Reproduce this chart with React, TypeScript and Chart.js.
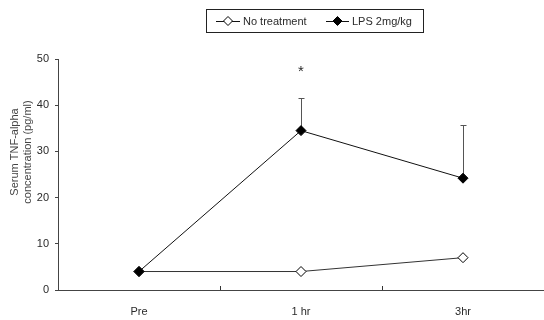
import React, { useEffect, useRef } from "react";
import { Chart, registerables } from "chart.js";

Chart.register(...registerables);

const categories = ["Pre", "1 hr", "3hr"];
const noTreatment = [4, 4, 7];
const lps = [4, 34.5, 24.2];
const lpsError = [0, 7, 11.5];
const significance = ["", "*", ""];
const seriesLabels = ["No treatment", "LPS 2mg/kg"];
const yTitle = ["Serum TNF-alpha", "concentration (pg/ml)"];
const yMin = 0;
const yMax = 50;
const yStep = 10;

const FONT = "'Liberation Sans', Arial, sans-serif";
const TEXT = "#2a2a2a";

const decorPlugin = {
  id: "decor",
  beforeDatasetsDraw(chart: any) {
    const ctx = chart.ctx;
    const meta = chart.getDatasetMeta(1);
    const ys = chart.scales.y;
    ctx.save();
    ctx.strokeStyle = "#555";
    ctx.lineWidth = 1;
    lps.forEach((v, i) => {
      const e = lpsError[i];
      if (!e) return;
      const pt = meta.data[i];
      const x = Math.round(pt.x) + 0.5;
      const y0 = ys.getPixelForValue(v);
      const y1 = Math.round(ys.getPixelForValue(v + e)) + 0.5;
      ctx.beginPath();
      ctx.moveTo(x, y0);
      ctx.lineTo(x, y1);
      ctx.moveTo(x - 3, y1);
      ctx.lineTo(x + 3, y1);
      ctx.stroke();
    });
    ctx.restore();
  },
  afterDraw(chart: any) {
    const ctx = chart.ctx;
    const xs = chart.scales.x;
    const ys = chart.scales.y;
    const area = chart.chartArea;
    ctx.save();
    // x tick marks pointing up at category boundaries
    ctx.strokeStyle = "#333";
    ctx.lineWidth = 1;
    for (let i = 1; i < categories.length; i++) {
      const xb = Math.round((xs.getPixelForValue(i - 1) + xs.getPixelForValue(i)) / 2) + 0.5;
      ctx.beginPath();
      ctx.moveTo(xb, area.bottom);
      ctx.lineTo(xb, area.bottom - 4);
      ctx.stroke();
    }
    // significance marks
    ctx.fillStyle = TEXT;
    ctx.font = "15px " + FONT;
    ctx.textAlign = "center";
    ctx.textBaseline = "middle";
    const meta = chart.getDatasetMeta(1);
    significance.forEach((s, i) => {
      if (!s) return;
      const x = meta.data[i].x;
      const y = ys.getPixelForValue(lps[i] + lpsError[i]) - 26;
      ctx.fillText(s, x, y);
    });
    // y title
    ctx.font = "11px " + FONT;
    ctx.fillStyle = "#444";
    const cy = 152;
    [15, 28].forEach((cx, k) => {
      ctx.save();
      ctx.translate(cx, cy);
      ctx.rotate(-Math.PI / 2);
      ctx.fillText(yTitle[k], 0, 0);
      ctx.restore();
    });
    // legend
    const bx = 206.5, by = 9.5, bw = 217, bh = 23;
    ctx.strokeStyle = "#222";
    ctx.strokeRect(bx, by, bw, bh);
    const items = [
      { x0: 216, x1: 240, tx: 243, ds: chart.data.datasets[0] },
      { x0: 326, x1: 349, tx: 352, ds: chart.data.datasets[1] },
    ];
    const ly = 21;
    items.forEach((it) => {
      ctx.strokeStyle = "#111";
      ctx.beginPath();
      ctx.moveTo(it.x0, ly + 0.5);
      ctx.lineTo(it.x1, ly + 0.5);
      ctx.stroke();
      const cx = (it.x0 + it.x1) / 2;
      const r = 4.5;
      ctx.beginPath();
      ctx.moveTo(cx, ly - r);
      ctx.lineTo(cx + r, ly);
      ctx.lineTo(cx, ly + r);
      ctx.lineTo(cx - r, ly);
      ctx.closePath();
      ctx.fillStyle = it.ds.pointBackgroundColor;
      ctx.fill();
      ctx.strokeStyle = "#000";
      ctx.stroke();
      ctx.fillStyle = TEXT;
      ctx.font = "11px " + FONT;
      ctx.textAlign = "left";
      ctx.textBaseline = "middle";
      ctx.fillText(it.ds.label, it.tx, ly + 1);
    });
    ctx.restore();
  },
};

export default function App() {
  const ref = useRef<HTMLCanvasElement | null>(null);
  useEffect(() => {
    if (!ref.current) return;
    const chart = new Chart(ref.current, {
      type: "line",
      data: {
        labels: categories,
        datasets: [
          {
            label: seriesLabels[0],
            data: noTreatment,
            order: 1,
            borderColor: "#333",
            borderWidth: 1,
            pointStyle: "rectRot",
            pointRadius: 5,
            pointBackgroundColor: "#ffffff",
            pointBorderColor: "#000",
            pointBorderWidth: 1,
            tension: 0,
          },
          {
            label: seriesLabels[1],
            data: lps,
            order: 0,
            borderColor: "#111",
            borderWidth: 1,
            pointStyle: "rectRot",
            pointRadius: 5,
            pointBackgroundColor: "#000000",
            pointBorderColor: "#000",
            pointBorderWidth: 1,
            tension: 0,
          },
        ],
      },
      options: {
        responsive: false,
        animation: false,
        layout: { autoPadding: false, padding: { top: 59, right: 0, left: 0, bottom: 0 } },
        plugins: { legend: { display: false }, tooltip: { enabled: false } },
        scales: {
          x: {
            offset: true,
            grid: { display: false, drawTicks: false },
            border: { display: true, color: "#444", width: 1 },
            ticks: { color: TEXT, font: { family: FONT, size: 11 }, padding: 15 },
            afterFit: (s: any) => { s.height = 30; },
          },
          y: {
            min: yMin,
            max: yMax,
            grid: { display: true, drawOnChartArea: false, drawTicks: true, tickLength: 3, color: "#444" },
            border: { display: true, color: "#444", width: 1 },
            ticks: { stepSize: yStep, color: TEXT, font: { family: FONT, size: 11 }, padding: 6 },
            afterFit: (s: any) => { s.width = 58; },
          },
        },
      },
      plugins: [decorPlugin],
    });
    return () => chart.destroy();
  }, []);
  return (
    <div style={{ position: "fixed", left: 0, top: 0, width: 544, height: 320, background: "#fff" }}>
      <canvas ref={ref} width={544} height={320} />
    </div>
  );
}
